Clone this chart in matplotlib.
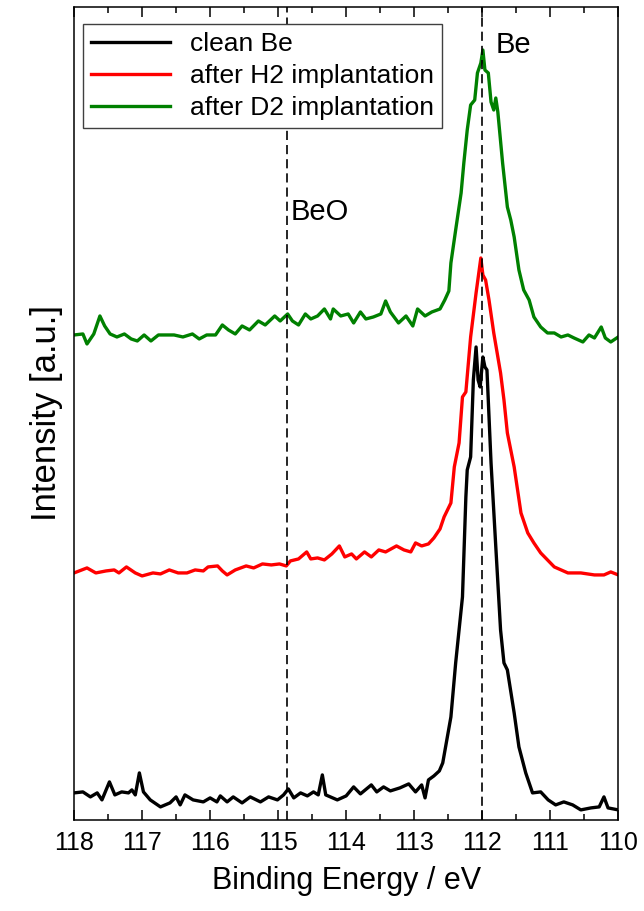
import matplotlib
matplotlib.use('Agg')
import matplotlib.pyplot as plt
from matplotlib.ticker import MultipleLocator

plt.rcParams['font.family'] = ['Liberation Sans', 'DejaVu Sans']

# binding energy (eV) and intensity (a.u.)
be_clean_x = [118.00, 117.87, 117.76, 117.66, 117.59, 117.48, 117.40, 117.30, 117.20, 117.15,
              117.10, 117.04, 116.98, 116.88, 116.73, 116.59, 116.50, 116.44, 116.37, 116.25,
              116.10, 116.00, 115.90, 115.85, 115.75, 115.66, 115.53, 115.41, 115.26, 115.14,
              115.01, 114.92, 114.85, 114.77, 114.67, 114.57, 114.48, 114.41, 114.35, 114.30,
              114.13, 114.00, 113.89, 113.79, 113.63, 113.55, 113.45, 113.35, 113.21, 113.08,
              112.98, 112.89, 112.84, 112.79, 112.71, 112.63, 112.58, 112.46, 112.39, 112.29,
              112.24, 112.22, 112.17, 112.13, 112.09, 112.06, 112.03, 111.99, 111.96, 111.93,
              111.87, 111.80, 111.73, 111.68, 111.63, 111.53, 111.46, 111.36, 111.26, 111.14,
              111.03, 110.92, 110.80, 110.67, 110.55, 110.40, 110.28, 110.21, 110.15, 110.00]
be_clean_y = [27, 28, 23, 27, 20, 38, 25, 28, 27, 30,
              25, 47, 28, 20, 13, 17, 23, 15, 25, 20,
              18, 22, 18, 24, 18, 23, 17, 23, 18, 23,
              20, 25, 31, 22, 27, 24, 28, 25, 45, 25,
              20, 24, 33, 26, 35, 28, 33, 29, 32, 36,
              28, 35, 22, 40, 44, 49, 57, 103, 157, 223,
              323, 350, 363, 440, 473, 440, 433, 463, 453, 450,
              357, 273, 190, 157, 150, 107, 73, 47, 27, 28,
              20, 15, 18, 15, 10, 12, 13, 23, 12, 10]

h2_x = [118.00, 117.81, 117.68, 117.53, 117.41, 117.34, 117.23, 117.10, 117.00, 116.84,
        116.73, 116.60, 116.47, 116.34, 116.22, 116.10, 116.03, 115.89, 115.82, 115.75,
        115.63, 115.47, 115.36, 115.23, 115.10, 114.98, 114.88, 114.82, 114.70, 114.58,
        114.52, 114.42, 114.32, 114.21, 114.10, 114.02, 113.92, 113.85, 113.73, 113.63,
        113.52, 113.42, 113.26, 113.15, 113.05, 112.98, 112.89, 112.79, 112.71, 112.62,
        112.56, 112.46, 112.41, 112.34, 112.29, 112.24, 112.17, 112.09, 112.05, 112.02,
        111.99, 111.95, 111.90, 111.83, 111.73, 111.68, 111.63, 111.53, 111.43, 111.33,
        111.24, 111.14, 111.04, 110.94, 110.84, 110.74, 110.55, 110.35, 110.21, 110.11,
        110.00]
h2_y = [247, 252, 247, 249, 250, 247, 253, 247, 244, 247,
        246, 250, 247, 247, 250, 249, 253, 254, 249, 245,
        250, 254, 252, 256, 255, 256, 254, 259, 261, 268,
        261, 262, 260, 266, 274, 263, 266, 261, 268, 263,
        270, 268, 274, 270, 268, 277, 274, 276, 282, 291,
        303, 317, 353, 377, 423, 428, 483, 527, 547, 562,
        545, 540, 520, 487, 447, 420, 387, 353, 307, 287,
        277, 267, 260, 253, 250, 247, 247, 245, 245, 248,
        245]

d2_x = [118.00, 117.87, 117.81, 117.71, 117.62, 117.55, 117.47, 117.37, 117.26, 117.16,
        117.07, 116.97, 116.87, 116.76, 116.66, 116.53, 116.40, 116.26, 116.16, 116.05,
        115.92, 115.82, 115.73, 115.63, 115.53, 115.42, 115.29, 115.19, 115.05, 114.97,
        114.86, 114.79, 114.70, 114.60, 114.52, 114.42, 114.32, 114.23, 114.19, 114.08,
        113.97, 113.89, 113.79, 113.71, 113.60, 113.49, 113.42, 113.35, 113.23, 113.12,
        113.02, 112.95, 112.84, 112.74, 112.62, 112.55, 112.49, 112.46, 112.39, 112.31,
        112.27, 112.22, 112.17, 112.11, 112.07, 112.02, 111.99, 111.96, 111.91, 111.87,
        111.83, 111.80, 111.77, 111.70, 111.63, 111.58, 111.53, 111.46, 111.39, 111.31,
        111.24, 111.14, 111.04, 110.94, 110.84, 110.74, 110.65, 110.52, 110.43, 110.35,
        110.25, 110.19, 110.11, 110.00]
d2_y = [485, 486, 476, 486, 504, 494, 486, 483, 486, 481,
        479, 485, 479, 485, 485, 485, 483, 486, 481, 485,
        485, 495, 490, 486, 494, 490, 499, 495, 504, 499,
        506, 499, 495, 506, 501, 504, 511, 501, 511, 504,
        506, 497, 508, 501, 503, 506, 519, 508, 497, 504,
        494, 511, 504, 508, 511, 520, 529, 557, 590, 627,
        657, 690, 715, 720, 747, 757, 770, 750, 747, 718,
        710, 722, 708, 657, 613, 600, 583, 550, 530, 520,
        503, 493, 487, 487, 483, 485, 482, 478, 485, 482,
        493, 482, 478, 483]

peak_labels = ['Be', 'BeO']
peak_pos = [112.0, 114.87]

fig = plt.figure(figsize=(6.44, 9.11), dpi=100)
ax = fig.add_axes([0.115, 0.1, 0.845, 0.8923])

ax.plot(be_clean_x, be_clean_y, color='black', lw=2.4, label='clean Be')
ax.plot(h2_x, h2_y, color='#ff0000', lw=2.4, label='after H2 implantation')
ax.plot(d2_x, d2_y, color='#008000', lw=2.4, label='after D2 implantation')

for pos in peak_pos:
    ax.axvline(pos, color='black', lw=1.2, linestyle=(0, (5.5, 3)))

ax.text(111.8, 775, peak_labels[0], fontsize=21, va='center', ha='left')
ax.text(114.82, 608, peak_labels[1], fontsize=21, va='center', ha='left')

ax.set_xlim(118, 110)
ax.set_ylim(0, 813)
ax.xaxis.set_major_locator(MultipleLocator(1))
ax.xaxis.set_minor_locator(MultipleLocator(0.5))
ax.set_yticks([])
ax.tick_params(axis='x', which='major', direction='in', top=True, length=7, width=1.1,
               labelsize=18, pad=8)
ax.tick_params(axis='x', which='minor', direction='in', top=True, length=4, width=1.1)
for sp in ax.spines.values():
    sp.set_linewidth(1.1)

ax.set_xlabel('Binding Energy / eV', fontsize=22, labelpad=8)
ax.set_ylabel('Intensity [a.u.]', fontsize=25, labelpad=8)

leg = ax.legend(loc='upper left', bbox_to_anchor=(0.0165, 0.979), borderaxespad=0,
                fontsize=19, handlelength=3.0, handletextpad=0.75, labelspacing=0.3,
                borderpad=0.3, fancybox=False, framealpha=1, edgecolor='0.25')
leg.get_frame().set_linewidth(1.0)

fig.savefig('out.png', dpi=100)
